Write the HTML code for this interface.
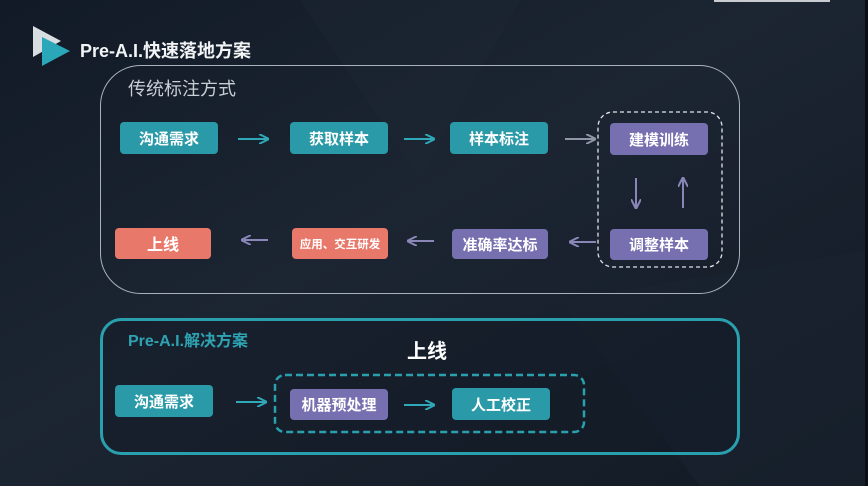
<!DOCTYPE html>
<html><head><meta charset="utf-8"><style>
html,body{margin:0;padding:0;width:868px;height:486px;overflow:hidden;background:#131b27}
svg{display:block}
text{font-family:"Liberation Sans","Noto Sans CJK SC",sans-serif}
</style></head><body>
<svg width="868" height="486" viewBox="0 0 868 486" xmlns="http://www.w3.org/2000/svg">
<defs>
<linearGradient id="bg" x1="0" y1="0" x2="1" y2="1">
<stop offset="0" stop-color="#111a26"/><stop offset="0.45" stop-color="#1c2532"/><stop offset="1" stop-color="#121a25"/>
</linearGradient>
<marker id="ah" viewBox="0 0 10 10" refX="9" refY="5" markerWidth="5" markerHeight="5" orient="auto-start-reverse"><path d="M0,0 L10,5 L0,10" fill="none" stroke="context-stroke" stroke-width="2"/></marker>
</defs>
<rect width="868" height="486" fill="url(#bg)"/>
<polygon points="300,0 520,0 420,180" fill="#1e2835" opacity="0.4"/>
<polygon points="560,300 868,250 868,486 700,486" fill="#1a2330" opacity="0.5"/>
<rect x="865" y="0" width="3" height="486" fill="#0a0e15"/>
<rect x="714" y="0" width="116" height="2" fill="#c8ccd2"/>
<!-- logo -->
<polygon points="33,26 33,57 61,41" fill="#d8dde2"/>
<polygon points="42,37 42,66 70,51" fill="#2aa7b8"/>
<text x="80" y="57" font-size="18" font-weight="bold" fill="#f2f4f6">Pre-A.I.快速落地方案</text>
<!-- box1 -->
<rect x="100.5" y="65.5" width="639" height="228" rx="40" fill="none" stroke="#a9b2bc" stroke-width="1"/>
<text x="128" y="95" font-size="18" fill="#c8ced4">传统标注方式</text>
<g font-size="15" font-weight="bold" fill="#fff" text-anchor="middle">
<rect x="120" y="122" width="98" height="32" rx="4" fill="#2b9aa8"/><text x="169" y="144">沟通需求</text>
<rect x="290" y="122" width="98" height="32" rx="4" fill="#2b9aa8"/><text x="339" y="144">获取样本</text>
<rect x="450" y="122" width="98" height="32" rx="4" fill="#2b9aa8"/><text x="499" y="144">样本标注</text>
<rect x="610" y="123" width="98" height="32" rx="4" fill="#7670b0"/><text x="659" y="145">建模训练</text>
<rect x="610" y="229" width="98" height="31" rx="4" fill="#7670b0"/><text x="659" y="250">调整样本</text>
<rect x="452" y="229" width="96" height="30" rx="4" fill="#7670b0"/><text x="500" y="250">准确率达标</text>
<rect x="292" y="228" width="96" height="31" rx="4" fill="#e8786a"/><text x="340" y="248" font-size="11.5">应用、交互研发</text>
<rect x="115" y="228" width="96" height="31" rx="4" fill="#e8786a"/><text x="163" y="250" font-size="16">上线</text>
</g>
<g stroke-width="2" fill="none">
<line x1="238" y1="139" x2="268" y2="139" stroke="#2fa8b8" marker-end="url(#ah)"/>
<line x1="404" y1="139" x2="434" y2="139" stroke="#2fa8b8" marker-end="url(#ah)"/>
<line x1="565" y1="139" x2="595" y2="139" stroke="#8f96a8" marker-end="url(#ah)"/>
<line x1="636" y1="178" x2="636" y2="208" stroke="#8a86b8" marker-end="url(#ah)"/>
<line x1="683" y1="208" x2="683" y2="178" stroke="#8a86b8" marker-end="url(#ah)"/>
<line x1="596" y1="242" x2="570" y2="242" stroke="#8a86b8" marker-end="url(#ah)"/>
<line x1="434" y1="241" x2="408" y2="241" stroke="#8a86b8" marker-end="url(#ah)"/>
<line x1="268" y1="240" x2="242" y2="240" stroke="#8a86b8" marker-end="url(#ah)"/>
</g>
<rect x="598" y="112" width="124" height="155" rx="15" fill="none" stroke="#e0e4e8" stroke-width="1.3" stroke-dasharray="4,3"/>
<!-- box2 -->
<rect x="101.5" y="319.5" width="637" height="134" rx="20" fill="#111a25" fill-opacity="0.4" stroke="#2aa0ae" stroke-width="3"/>
<text x="128" y="346" font-size="16" font-weight="bold" fill="#2ea4b2">Pre-A.I.解决方案</text>
<text x="427" y="358" font-size="20" font-weight="bold" fill="#fff" text-anchor="middle">上线</text>
<rect x="275" y="375" width="309" height="57" rx="10" fill="none" stroke="#2aa0ae" stroke-width="2.5" stroke-dasharray="7,4"/>
<g font-size="15" font-weight="bold" fill="#fff" text-anchor="middle">
<rect x="115" y="385" width="98" height="32" rx="4" fill="#2b9aa8"/><text x="164" y="407">沟通需求</text>
<rect x="290" y="389" width="98" height="31" rx="4" fill="#7670b0"/><text x="339" y="410">机器预处理</text>
<rect x="452" y="388" width="98" height="32" rx="4" fill="#2b9aa8"/><text x="501" y="410">人工校正</text>
</g>
<g stroke="#2fa8b8" stroke-width="2" fill="none">
<line x1="236" y1="402" x2="266" y2="402" marker-end="url(#ah)"/>
<line x1="404" y1="405" x2="434" y2="405" marker-end="url(#ah)"/>
</g>
</svg>
</body></html>
